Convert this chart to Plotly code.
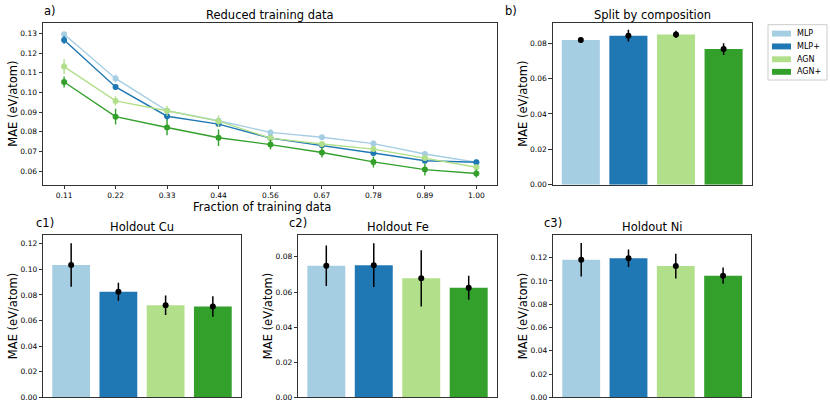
import plotly.graph_objects as go

W, H = 830, 415

models = ["MLP", "MLP+", "AGN", "AGN+"]
colors = ["#a6cee3", "#1f78b4", "#b2df8a", "#33a02c"]

# Panel a: reduced training data
fractions = [0.111, 0.222, 0.333, 0.444, 0.556, 0.667, 0.778, 0.889, 1.0]
frac_labels = ["0.11", "0.22", "0.33", "0.44", "0.56", "0.67", "0.78", "0.89", "1.00"]
mae_mlp = [0.1295, 0.1071, 0.0907, 0.0856, 0.0797, 0.0772, 0.0740, 0.0687, 0.0645]
mae_mlpp = [0.1266, 0.1028, 0.0879, 0.0839, 0.0768, 0.0731, 0.0692, 0.0653, 0.0645]
mae_agn = [0.1131, 0.0957, 0.0907, 0.0854, 0.0768, 0.0738, 0.0712, 0.0667, 0.0620]
mae_agnp = [0.1053, 0.0877, 0.0822, 0.0770, 0.0735, 0.0695, 0.0647, 0.0608, 0.0588]
err_mlp = [0.0010, 0.0020, 0.0012, 0.0012, 0.0015, 0.0010, 0.0015, 0.0015, 0.0010]
err_mlpp = [0.0020, 0.0015, 0.0020, 0.0012, 0.0012, 0.0010, 0.0012, 0.0012, 0.0010]
err_agn = [0.0037, 0.0023, 0.0025, 0.0030, 0.0012, 0.0012, 0.0015, 0.0015, 0.0012]
err_agnp = [0.0028, 0.0040, 0.0040, 0.0042, 0.0025, 0.0025, 0.0028, 0.0030, 0.0020]

# Panel b: split by composition
split_mae = [0.0818, 0.0843, 0.0850, 0.0767]
split_err = [0.0015, 0.0033, 0.0020, 0.0033]

# Panels c: holdout elements
cu_mae = [0.1034, 0.0825, 0.0720, 0.0710]
cu_err = [0.0170, 0.0070, 0.0076, 0.0080]
fe_mae = [0.0749, 0.0753, 0.0678, 0.0624]
fe_err = [0.0115, 0.0124, 0.0160, 0.0068]
ni_mae = [0.1181, 0.1195, 0.1127, 0.1045]
ni_err = [0.0144, 0.0075, 0.0106, 0.0070]

bar_pos = [0, 1, 2, 3]

FONT = "DejaVu Sans"
fig = go.Figure()

def px_x(a, b):
    return [a / W, b / W]

def px_y(top, bottom):
    return [1 - bottom / H, 1 - top / H]

# Panel a lines
series = [mae_mlp, mae_mlpp, mae_agn, mae_agnp]
errs = [err_mlp, err_mlpp, err_agn, err_agnp]
for name, col, ys, es in zip(models, colors, series, errs):
    fig.add_trace(go.Scatter(
        x=fractions, y=ys, mode="lines+markers", name=name, showlegend=False,
        line=dict(color=col, width=1.4), marker=dict(color=col, size=6),
        error_y=dict(type="data", array=es, color=col, thickness=1.4, width=0),
        xaxis="x", yaxis="y"))

# Bar panels
bar_panels = [("x2", "y2", split_mae, split_err),
              ("x3", "y3", cu_mae, cu_err),
              ("x4", "y4", fe_mae, fe_err),
              ("x5", "y5", ni_mae, ni_err)]
for xa, ya, vals, es in bar_panels:
    for i, (name, col) in enumerate(zip(models, colors)):
        fig.add_trace(go.Bar(
            x=[bar_pos[i]], y=[vals[i]], width=0.8, name=name, showlegend=False,
            marker=dict(color=col, line=dict(width=0)), xaxis=xa, yaxis=ya))
    fig.add_trace(go.Scatter(
        x=bar_pos, y=vals, mode="markers", showlegend=False,
        marker=dict(color="black", size=6),
        error_y=dict(type="data", array=es, color="black", thickness=1.5, width=0),
        xaxis=xa, yaxis=ya))

axis_common = dict(showline=True, mirror=True, linecolor="#333333", linewidth=1,
                   ticks="outside", ticklen=3.5, tickwidth=0.8, tickcolor="#333333",
                   showgrid=False, zeroline=False,
                   tickfont=dict(family=FONT, size=7.5, color="black"))

top_y = px_y(23, 187)
bot_y = px_y(238.3, 402.3)

layout = dict(
    width=W, height=H, margin=dict(l=0, r=0, t=0, b=0),
    paper_bgcolor="white", plot_bgcolor="white", barmode="overlay",
    font=dict(family=FONT, color="black"), showlegend=False,
    xaxis=dict(domain=px_x(43, 497), range=[0.0655, 1.0445], tickvals=fractions,
               ticktext=frac_labels, anchor="y", **axis_common),
    yaxis=dict(domain=top_y, range=[0.0531, 0.1354], dtick=0.01, tickformat=".2f",
               anchor="x", **axis_common),
    xaxis2=dict(domain=px_x(552.7, 751.7), range=[-0.59, 3.59], showticklabels=False,
                anchor="y2", **{**axis_common, "ticks": ""}),
    yaxis2=dict(domain=top_y, range=[0, 0.0916], dtick=0.02, tickformat=".2f",
                anchor="x2", **axis_common),
    xaxis3=dict(domain=px_x(43.3, 240.7), range=[-0.59, 3.59], showticklabels=False,
                anchor="y3", **{**axis_common, "ticks": ""}),
    yaxis3=dict(domain=bot_y, range=[0, 0.1265], dtick=0.02, tickformat=".2f",
                anchor="x3", **axis_common),
    xaxis4=dict(domain=px_x(298.3, 496.7), range=[-0.59, 3.59], showticklabels=False,
                anchor="y4", **{**axis_common, "ticks": ""}),
    yaxis4=dict(domain=bot_y, range=[0, 0.0922], dtick=0.02, tickformat=".2f",
                anchor="x4", **axis_common),
    xaxis5=dict(domain=px_x(553.3, 751), range=[-0.59, 3.59], showticklabels=False,
                anchor="y5", **{**axis_common, "ticks": ""}),
    yaxis5=dict(domain=bot_y, range=[0, 0.139], dtick=0.02, tickformat=".2f",
                anchor="x5", **axis_common),
)
fig.update_layout(**layout)

def ann(text, x, y, size=11.5, angle=0, xanchor="center"):
    fig.add_annotation(text=text, x=x / W, y=1 - y / H, xref="paper", yref="paper",
                       showarrow=False, xanchor=xanchor, yanchor="middle",
                       textangle=angle, borderpad=0,
                       font=dict(family=FONT, size=size, color="black"))

ann("Reduced training data", 270, 15)
ann("Split by composition", 652, 15)
ann("Holdout Cu", 142, 230)
ann("Holdout Fe", 397.5, 230)
ann("Holdout Ni", 652, 230)
ann("Fraction of training data", 262, 209.5)
ann("a)", 43, 11, xanchor="left")
ann("b)", 504, 11, xanchor="left")
ann("c1)", 35, 226, xanchor="left")
ann("c2)", 288, 226, xanchor="left")
ann("c3)", 543, 226, xanchor="left")
for xp, yp in [(13, 105), (523, 105), (13, 320), (268, 320), (523, 320)]:
    ann("MAE (eV/atom)", xp, yp, angle=-90)

# Legend (matplotlib-style box with rectangular patches)
fig.add_shape(type="rect", xref="paper", yref="paper",
              x0=768 / W, x1=827 / W, y0=1 - 81 / H, y1=1 - 25 / H,
              line=dict(color="#cccccc", width=1), fillcolor="white")
row_y = [34, 47, 60, 72.7]
for name, col, ry in zip(models, colors, row_y):
    fig.add_shape(type="rect", xref="paper", yref="paper",
                  x0=772 / W, x1=791 / W, y0=1 - (ry + 3) / H, y1=1 - (ry - 3) / H,
                  line=dict(width=0), fillcolor=col)
    ann(name, 796, ry, size=8, xanchor="left")

fig.write_html("out.html", config={"displayModeBar": False},
               post_script="document.body.style.margin='0';")
